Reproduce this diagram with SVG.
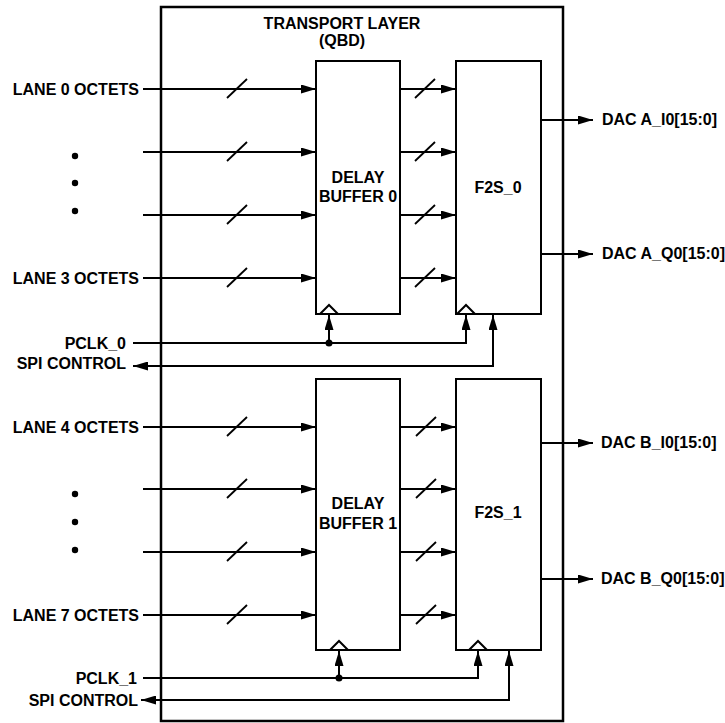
<svg xmlns="http://www.w3.org/2000/svg" width="725" height="723" viewBox="0 0 725 723">
<defs>
<marker id="ah" markerUnits="userSpaceOnUse" markerWidth="16" markerHeight="9" refX="15" refY="4.5" orient="auto-start-reverse">
<path d="M0,0 L15,4.5 L0,9 z" fill="#000"/>
</marker>
<style>
text{font-family:"Liberation Sans",Arial,sans-serif;font-weight:bold;font-size:16px;fill:#000}
.e{text-anchor:end}
.m{text-anchor:middle}
.box{fill:#fff;stroke:#000;stroke-width:2}
.w{fill:none;stroke:#000;stroke-width:2}
.a{fill:none;stroke:#000;stroke-width:2;marker-end:url(#ah)}
.ab{fill:none;stroke:#000;stroke-width:2;marker-end:url(#ah);marker-start:url(#ah)}
.s{stroke:#000;stroke-width:1.8}
.ck{fill:none;stroke:#000;stroke-width:2}
</style>
</defs>
<rect width="725" height="723" fill="#fff"/>
<g id="transport-layer">
<rect x="161" y="7" width="402" height="714" fill="none" stroke="#000" stroke-width="2.5"/>
<text class="m" x="342" y="29">TRANSPORT LAYER</text>
<text class="m" x="342" y="46">(QBD)</text>
</g>
<g id="delay-buffer-0">
<rect class="box" x="316" y="61" width="84" height="253"/>
<polyline class="ck" points="320,314 329,305 338,314"/>
<text class="m" x="358" y="183">DELAY</text>
<text class="m" x="358" y="202">BUFFER 0</text>
</g>
<g id="f2s-0">
<rect class="box" x="456" y="61" width="85" height="253"/>
<polyline class="ck" points="457,314 466,305 475,314"/>
<text class="m" x="498" y="193">F2S_0</text>
</g>
<g id="delay-buffer-1">
<rect class="box" x="316" y="379" width="84" height="271"/>
<polyline class="ck" points="330,650 339,641 348,650"/>
<text class="m" x="358" y="509">DELAY</text>
<text class="m" x="358" y="529">BUFFER 1</text>
</g>
<g id="f2s-1">
<rect class="box" x="456" y="379" width="85" height="271"/>
<polyline class="ck" points="469,650 478,641 487,650"/>
<text class="m" x="498" y="518">F2S_1</text>
</g>
<g id="labels">
<text class="e" x="139" y="94.5">LANE 0 OCTETS</text>
<text class="e" x="139" y="283.5">LANE 3 OCTETS</text>
<text class="e" x="139" y="432.5">LANE 4 OCTETS</text>
<text class="e" x="139" y="620.5">LANE 7 OCTETS</text>
<text class="e" x="126" y="349">PCLK_0</text>
<text class="e" x="126" y="368.5">SPI CONTROL</text>
<text class="e" x="137" y="684">PCLK_1</text>
<text class="e" x="138" y="706">SPI CONTROL</text>
<text x="602" y="125">DAC A_I0[15:0]</text>
<text x="602" y="259">DAC A_Q0[15:0]</text>
<text x="601" y="448">DAC B_I0[15:0]</text>
<text x="601" y="584">DAC B_Q0[15:0]</text>
<circle cx="75" cy="156" r="3.2"/>
<circle cx="75" cy="183" r="3.2"/>
<circle cx="75" cy="211" r="3.2"/>
<circle cx="75" cy="494" r="3.2"/>
<circle cx="75" cy="522" r="3.2"/>
<circle cx="75" cy="550" r="3.2"/>
</g>
<g id="connectors">
<path class="a" d="M143,89 H316"/>
<path class="a" d="M143,152 H316"/>
<path class="a" d="M143,215 H316"/>
<path class="a" d="M143,278 H316"/>
<path class="a" d="M143,427 H316"/>
<path class="a" d="M143,489 H316"/>
<path class="a" d="M143,552 H316"/>
<path class="a" d="M143,615 H316"/>
<path class="a" d="M400,89 H456"/>
<path class="a" d="M400,152 H456"/>
<path class="a" d="M400,215 H456"/>
<path class="a" d="M400,278 H456"/>
<path class="a" d="M400,427 H456"/>
<path class="a" d="M400,489 H456"/>
<path class="a" d="M400,552 H456"/>
<path class="a" d="M400,615 H456"/>
<g class="s">
<line x1="227" y1="98" x2="247" y2="79"/>
<line x1="227" y1="161" x2="247" y2="142"/>
<line x1="227" y1="224" x2="247" y2="205"/>
<line x1="227" y1="287" x2="247" y2="268"/>
<line x1="227" y1="436" x2="247" y2="417"/>
<line x1="227" y1="498" x2="247" y2="479"/>
<line x1="227" y1="561" x2="247" y2="542"/>
<line x1="227" y1="624" x2="247" y2="605"/>
<line x1="415" y1="98" x2="435" y2="79"/>
<line x1="415" y1="161" x2="435" y2="142"/>
<line x1="415" y1="224" x2="435" y2="205"/>
<line x1="415" y1="287" x2="435" y2="268"/>
<line x1="416" y1="436" x2="436" y2="417"/>
<line x1="416" y1="498" x2="436" y2="479"/>
<line x1="416" y1="561" x2="436" y2="542"/>
<line x1="416" y1="624" x2="436" y2="605"/>
</g>
<path class="a" d="M541,120 H593"/>
<path class="a" d="M541,254 H593"/>
<path class="a" d="M541,443 H593"/>
<path class="a" d="M541,579 H593"/>
<path class="a" d="M133,343 H466 V315"/>
<path class="a" d="M329,343 V315"/>
<circle cx="329" cy="343" r="3.5"/>
<path class="ab" d="M133,366 H493 V315"/>
<path class="a" d="M143,678 H478 V651"/>
<path class="a" d="M339,678 V651"/>
<circle cx="339" cy="678" r="3.5"/>
<path class="ab" d="M141,700 H509 V651"/>
</g>
</svg>
